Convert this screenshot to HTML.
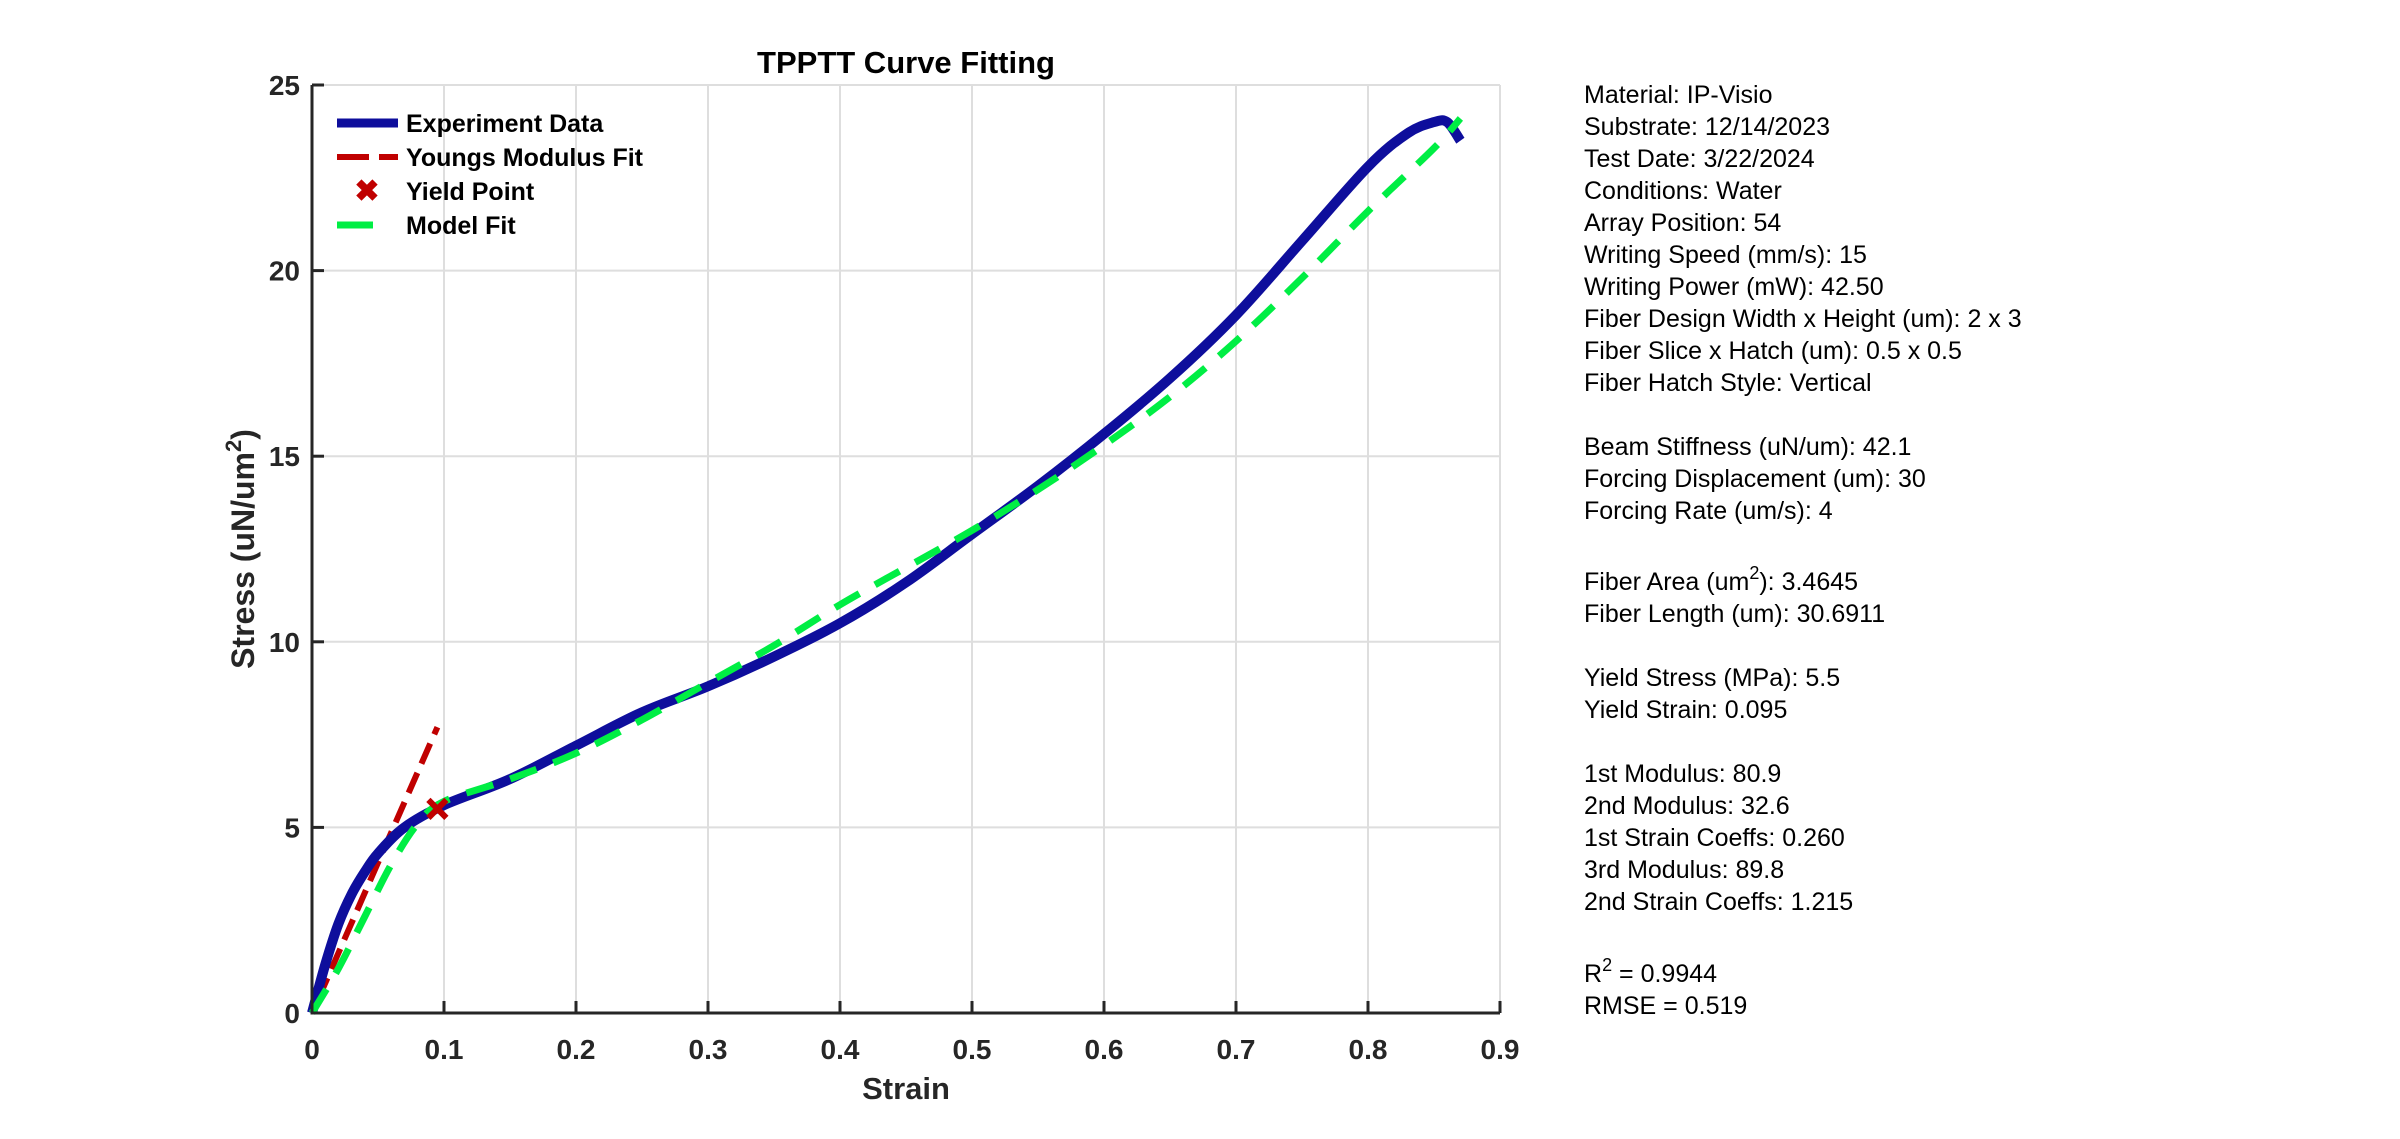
<!DOCTYPE html>
<html><head><meta charset="utf-8"><style>
body{margin:0;background:#fff;}
svg{display:block;font-family:"Liberation Sans",sans-serif;}
</style></head><body>
<svg id="chart" width="2400" height="1139" viewBox="0 0 2400 1139">
<g id="grid"></g>
<g id="series"></g>
<g id="axes"></g>
<text x="906" y="73" text-anchor="middle" font-size="31" font-weight="bold" fill="#000">TPPTT Curve Fitting</text>
<text x="906" y="1099" text-anchor="middle" font-size="31" font-weight="bold" fill="#262626">Strain</text>
<text transform="translate(254,549) rotate(-90)" text-anchor="middle" font-size="32" font-weight="bold" fill="#262626">Stress (uN/um<tspan dy="-13" font-size="22">2</tspan><tspan dy="13">)</tspan></text>
<g font-size="25" font-weight="bold" fill="#000">
<line x1="337" y1="123" x2="398" y2="123" stroke="#0e0e9c" stroke-width="9"/>
<text x="406" y="132">Experiment Data</text>
<line x1="337" y1="157" x2="398" y2="157" stroke="#c00000" stroke-width="6" stroke-dasharray="32 10"/>
<text x="406" y="166">Youngs Modulus Fit</text>
<text x="367" y="201" text-anchor="middle" font-size="30" fill="#c00000">✖</text>
<text x="406" y="200">Yield Point</text>
<line x1="337" y1="225" x2="373" y2="225" stroke="#00ee44" stroke-width="7"/>
<text x="406" y="234">Model Fit</text>
</g>
<g font-size="25" fill="#000">
<text x="1584" y="103">Material: IP-Visio</text>
<text x="1584" y="135">Substrate: 12/14/2023</text>
<text x="1584" y="167">Test Date: 3/22/2024</text>
<text x="1584" y="199">Conditions: Water</text>
<text x="1584" y="231">Array Position: 54</text>
<text x="1584" y="263">Writing Speed (mm/s): 15</text>
<text x="1584" y="295">Writing Power (mW): 42.50</text>
<text x="1584" y="327">Fiber Design Width x Height (um): 2 x 3</text>
<text x="1584" y="359">Fiber Slice x Hatch (um): 0.5 x 0.5</text>
<text x="1584" y="391">Fiber Hatch Style: Vertical</text>
<text x="1584" y="455">Beam Stiffness (uN/um): 42.1</text>
<text x="1584" y="487">Forcing Displacement (um): 30</text>
<text x="1584" y="519">Forcing Rate (um/s): 4</text>
<text x="1584" y="590">Fiber Area (um<tspan dy="-11" font-size="18">2</tspan><tspan dy="11">): 3.4645</tspan></text>
<text x="1584" y="622">Fiber Length (um): 30.6911</text>
<text x="1584" y="686">Yield Stress (MPa): 5.5</text>
<text x="1584" y="718">Yield Strain: 0.095</text>
<text x="1584" y="782">1st Modulus: 80.9</text>
<text x="1584" y="814">2nd Modulus: 32.6</text>
<text x="1584" y="846">1st Strain Coeffs: 0.260</text>
<text x="1584" y="878">3rd Modulus: 89.8</text>
<text x="1584" y="910">2nd Strain Coeffs: 1.215</text>
<text x="1584" y="982">R<tspan dy="-11" font-size="18">2</tspan><tspan dy="11"> = 0.9944</tspan></text>
<text x="1584" y="1014">RMSE = 0.519</text>
</g>
</svg>
<script>
const xTicks=[0,0.1,0.2,0.3,0.4,0.5,0.6,0.7,0.8,0.9];
const xTickLabels=["0","0.1","0.2","0.3","0.4","0.5","0.6","0.7","0.8","0.9"];
const yTicks=[0,5,10,15,20,25];
const yTickLabels=["0","5","10","15","20","25"];
const expStrain=[0,0.01,0.02,0.03,0.04,0.05,0.07,0.1,0.15,0.2,0.25,0.3,0.35,0.4,0.45,0.5,0.55,0.6,0.65,0.7,0.75,0.8,0.83,0.85,0.86,0.87];
const expStress=[0,1.3,2.4,3.2,3.8,4.3,5.0,5.6,6.3,7.2,8.1,8.8,9.6,10.5,11.6,12.9,14.2,15.6,17.1,18.8,20.8,22.8,23.7,24.0,24.0,23.5];
const fitStrain=[0,0.02,0.04,0.06,0.08,0.1,0.15,0.2,0.25,0.3,0.35,0.4,0.45,0.5,0.55,0.6,0.65,0.7,0.75,0.8,0.85,0.87];
const fitStress=[0,1.2,2.6,4.0,5.1,5.7,6.3,7.0,7.9,8.9,9.9,11.0,12.0,13.0,14.1,15.3,16.6,18.1,19.8,21.6,23.3,24.1];
const youngsStrain=[0.005,0.095];
const youngsStress=[0.4,7.7];
const yieldStrain=[0.095];
const yieldStress=[5.5];
const X0=312,X1=1500,Y0=1013,Y1=85;
const sx=v=>X0+(v-0)/(0.9)*(X1-X0);
const sy=v=>Y0-(v-0)/25*(Y0-Y1);
const NS="http://www.w3.org/2000/svg";
function mk(tag,attrs,parent){const e=document.createElementNS(NS,tag);for(const k in attrs)e.setAttribute(k,attrs[k]);parent.appendChild(e);return e;}
const grid=document.getElementById('grid'),axes=document.getElementById('axes'),series=document.getElementById('series');
xTicks.forEach((t,i)=>{
 const g=mk('line',{x1:sx(t),x2:sx(t),y1:Y1,y2:Y0,stroke:'#dedede','stroke-width':2},grid);
 
 
 const tk=mk('line',{x1:sx(t),x2:sx(t),y1:Y0,y2:Y0-12,stroke:'#262626','stroke-width':3},axes);
 
 
 const tx=mk('text',{x:sx(t),y:1059,'text-anchor':'middle','font-size':28,'font-weight':'bold',fill:'#262626'},axes);
 tx.textContent=xTickLabels[i];
 
 
});
yTicks.forEach((t,i)=>{
 const g=mk('line',{x1:X0,x2:X1,y1:sy(t),y2:sy(t),stroke:'#dedede','stroke-width':2},grid);
 
 
 const tk=mk('line',{x1:X0,x2:X0+12,y1:sy(t),y2:sy(t),stroke:'#262626','stroke-width':3},axes);
 
 
 const tx=mk('text',{x:300,y:sy(t)+10,'text-anchor':'end','font-size':28,'font-weight':'bold',fill:'#262626'},axes);
 tx.textContent=yTickLabels[i];
 
 
});
const xa=mk('path',{d:`M${X0} ${Y1}V${Y0}H${X1}`,fill:'none',stroke:'#262626','stroke-width':3},axes);


function smooth(xs,ys){
 const p=xs.map((x,i)=>[sx(x),sy(ys[i])]);
 let d=`M${p[0][0].toFixed(1)} ${p[0][1].toFixed(1)}`;
 for(let i=0;i<p.length-1;i++){
  const a=p[Math.max(0,i-1)],b=p[i],c=p[i+1],e=p[Math.min(p.length-1,i+2)];
  const c1=[b[0]+(c[0]-a[0])/6,b[1]+(c[1]-a[1])/6],c2=[c[0]-(e[0]-b[0])/6,c[1]-(e[1]-b[1])/6];
  d+=`C${c1[0].toFixed(1)} ${c1[1].toFixed(1)} ${c2[0].toFixed(1)} ${c2[1].toFixed(1)} ${c[0].toFixed(1)} ${c[1].toFixed(1)}`;
 }
 return d;
}
const ey=mk('path',{d:smooth(youngsStrain,youngsStress),fill:'none',stroke:'#c00000','stroke-width':6,'stroke-dasharray':'22 10'},series);


const ex=mk('path',{d:smooth(expStrain,expStress),fill:'none',stroke:'#0e0e9c','stroke-width':10,'stroke-linejoin':'round'},series);


const mf=mk('path',{d:smooth(fitStrain,fitStress),fill:'none',stroke:'#00ee44','stroke-width':7,'stroke-dasharray':'28 18'},series);


yieldStrain.forEach((v,i)=>{
 const cx=sx(v),cy=sy(yieldStress[i]),r=9;
 const p=mk('path',{d:`M${cx-r} ${cy-r}L${cx+r} ${cy+r}M${cx-r} ${cy+r}L${cx+r} ${cy-r}`,stroke:'#c00000','stroke-width':6},series);
 
 
});
</script>
</body></html>
